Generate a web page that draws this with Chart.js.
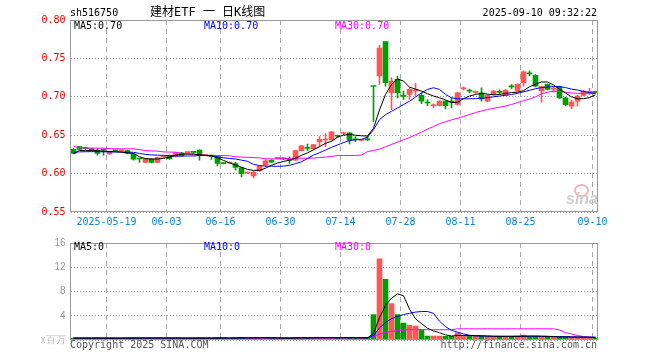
<!DOCTYPE html>
<html><head><meta charset="utf-8">
<script src="https://cdn.jsdelivr.net/npm/chart.js@4.4.1/dist/chart.umd.min.js"></script>
<style>
html,body{margin:0;padding:0;background:#fff;width:660px;height:360px;overflow:hidden;position:relative}
canvas{position:absolute;left:0}
.t{position:absolute;white-space:nowrap;font-family:"DejaVu Sans Mono",monospace;font-size:10px;line-height:10px}
</style></head><body>
<canvas id="pc" width="660" height="232" style="top:0"></canvas>
<canvas id="vc" width="660" height="128" style="top:232px"></canvas>
<div class="t" style="left:70px;top:8px;color:#000">sh516750</div>
<div class="t" style="left:150px;top:6px;font-size:12px;line-height:12px;font-family:'DejaVu Sans Mono','Noto Sans CJK SC',monospace;color:#000">建材ETF 一 日K线图</div>
<div class="t" style="right:63px;top:7.5px;color:#000">2025-09-10 09:32:22</div>
<div class="t" style="left:74px;top:20.5px;color:#000">MA5:0.70</div>
<div class="t" style="left:204px;top:20.5px;color:#0000ff">MA10:0.70</div>
<div class="t" style="left:335px;top:20.5px;color:#ff00ff">MA30:0.70</div>
<div class="t" style="left:74px;top:241.5px;color:#000">MA5:0</div>
<div class="t" style="left:204px;top:241.5px;color:#0000ff">MA10:0</div>
<div class="t" style="left:335px;top:241.5px;color:#ff00ff">MA30:0</div>
<div class="t" style="left:70px;top:340px;color:#555">Copyright 2025 SINA.COM</div>
<div class="t" style="right:63px;top:340px;color:#555">http://finance.sina.com.cn</div>
<div style="position:absolute;left:574px;top:184px;width:11px;height:9px;border:2px solid #f3b5b5;border-radius:50%"></div>
<div class="t" style="left:566px;top:191px;font-family:'Liberation Sans',sans-serif;font-size:16px;line-height:16px;font-weight:bold;font-style:italic;color:#cfcfcf">sina</div>
<script>
const dates = ['2025-05-09','2025-05-12','2025-05-13','2025-05-14','2025-05-15','2025-05-16',
'2025-05-19','2025-05-20','2025-05-21','2025-05-22','2025-05-23',
'2025-05-26','2025-05-27','2025-05-28','2025-05-29','2025-05-30',
'2025-06-03','2025-06-04','2025-06-05','2025-06-06',
'2025-06-09','2025-06-10','2025-06-11','2025-06-12','2025-06-13',
'2025-06-16','2025-06-17','2025-06-18','2025-06-19','2025-06-20',
'2025-06-23','2025-06-24','2025-06-25','2025-06-26','2025-06-27',
'2025-06-30','2025-07-01','2025-07-02','2025-07-03','2025-07-04',
'2025-07-07','2025-07-08','2025-07-09','2025-07-10','2025-07-11',
'2025-07-14','2025-07-15','2025-07-16','2025-07-17','2025-07-18',
'2025-07-21','2025-07-22','2025-07-23','2025-07-24','2025-07-25',
'2025-07-28','2025-07-29','2025-07-30','2025-07-31','2025-08-01',
'2025-08-04','2025-08-05','2025-08-06','2025-08-07','2025-08-08',
'2025-08-11','2025-08-12','2025-08-13','2025-08-14','2025-08-15',
'2025-08-18','2025-08-19','2025-08-20','2025-08-21','2025-08-22',
'2025-08-25','2025-08-26','2025-08-27','2025-08-28','2025-08-29',
'2025-09-01','2025-09-02','2025-09-03','2025-09-04','2025-09-05',
'2025-09-08','2025-09-09','2025-09-10'];

const openP = [.6316,.6351,.6330,.6320,.6307,.6310,.6255,.6302,.6296,.6300,
 .6254,.6195,.6145,.6188,.6145,.6215,.6237,.6220,.6270,.6274,
 .6280,.6307,.6238,.6232,.6219,.6135,.6138,.6132,.6075,.6008,
 .5969,.6035,.6114,.6175,.6198,.6195,.6177,.6175,.6300,.6332,
 .6320,.6412,.6437,.6439,.6490,.6522,.6530,.6445,.6432,.6450,
 .7140,.7272,.7719,.7053,.7228,.7012,.7031,.7073,.7018,.6923,
 .6884,.6886,.6943,.6935,.6900,.7103,.7077,.7058,.7053,.6943,
 .7031,.7062,.7018,.7134,.7075,.7184,.7302,.7280,.7075,.7162,
 .7098,.7132,.6987,.6877,.6943,.7018,.7058,.7062];
const closeP = [.6263,.6316,.6325,.6312,.6263,.6305,.6285,.6298,.6300,.6263,
 .6188,.6190,.6197,.6145,.6210,.6220,.6193,.6272,.6230,.6278,
 .6276,.6237,.6243,.6228,.6132,.6130,.6142,.6079,.6000,.6012,
 .6020,.6096,.6167,.6150,.6202,.6192,.6173,.6300,.6360,.6328,
 .6377,.6447,.6441,.6544,.6486,.6526,.6434,.6441,.6436,.6440,
 .7134,.7636,.7184,.7206,.7053,.7006,.7096,.7077,.6943,.6919,
 .6888,.6943,.6886,.6930,.7053,.7107,.7073,.7062,.6974,.7018,
 .7075,.7058,.7088,.7130,.7162,.7325,.7298,.7140,.7132,.7096,
 .7102,.6987,.6899,.6930,.7009,.7075,.7062,.7058];
const highP = [.6330,.6355,.6345,.6330,.6325,.6320,.6290,.6310,.6310,.6305,
 .6260,.6200,.6200,.6195,.6215,.6230,.6245,.6275,.6278,.6285,
 .6290,.6310,.6250,.6240,.6225,.6140,.6150,.6150,.6080,.6020,
 .6030,.6100,.6184,.6180,.6210,.6205,.6219,.6305,.6365,.6386,
 .6380,.6482,.6518,.6550,.6500,.6540,.6535,.6482,.6445,.6487,
 .7140,.7675,.7719,.7250,.7265,.7075,.7118,.7175,.7053,.6965,
 .6910,.6950,.6950,.6987,.7060,.7130,.7100,.7075,.7118,.7025,
 .7085,.7090,.7095,.7160,.7170,.7338,.7338,.7290,.7140,.7170,
 .7140,.7140,.6995,.6955,.7020,.7085,.7110,.7075];
const lowP = [.6255,.6310,.6315,.6300,.6241,.6241,.6250,.6290,.6290,.6255,
 .6175,.6145,.6140,.6140,.6140,.6205,.6185,.6215,.6225,.6265,
 .6265,.6175,.6232,.6184,.6100,.6125,.6130,.6044,.5956,.6000,
 .5943,.6030,.6088,.6145,.6190,.6180,.6132,.6170,.6295,.6298,
 .6315,.6351,.6351,.6435,.6470,.6504,.6386,.6417,.6425,.6430,
 .6680,.7162,.7140,.6833,.6987,.6965,.6965,.7009,.6912,.6886,
 .6860,.6880,.6842,.6855,.6890,.7090,.7050,.7045,.6943,.6935,
 .7025,.7035,.7010,.7105,.7070,.7140,.7272,.7130,.6930,.7090,
 .7060,.6980,.6880,.6842,.6877,.7010,.7030,.7050];

const ma5 = [.6260,.6300,.6300,.6300,.6298,.6292,.6288,.6285,.6280,.6270,
 .6262,.6220,.6195,.6190,.6190,.6198,.6215,.6240,.6252,.6255,
 .6255,.6245,.6235,.6230,.6205,.6172,.6140,.6112,.6082,.6055,
 .6042,.6042,.6070,.6108,.6138,.6158,.6175,.6200,.6238,.6270,
 .6310,.6350,.6395,.6420,.6475,.6500,.6510,.6500,.6492,.6490,
 .6590,.6830,.7030,.7160,.7230,.7206,.7125,.7100,.7075,.7040,
 .7010,.6987,.6960,.6925,.6928,.6975,.7010,.7030,.7045,.7035,
 .7025,.7030,.7045,.7055,.7060,.7080,.7130,.7165,.7193,.7193,
 .7155,.7100,.7050,.7000,.6975,.6975,.6990,.7025];
const ma10 = [.6276,.6283,.6285,.6286,.6285,.6284,.6283,.6281,.6280,.6280,
 .6277,.6262,.6250,.6243,.6240,.6238,.6232,.6230,.6228,.6229,
 .6230,.6236,.6236,.6232,.6220,.6205,.6197,.6190,.6175,.6160,
 .6120,.6105,.6098,.6096,.6095,.6097,.6108,.6130,.6155,.6195,
 .6241,.6272,.6307,.6342,.6373,.6404,.6430,.6439,.6447,.6474,
 .6570,.6702,.6768,.6811,.6855,.6899,.6943,.6996,.7053,.7096,
 .7118,.7096,.7031,.6987,.6974,.6974,.6974,.6976,.6980,.6990,
 .7000,.7010,.7020,.7030,.7045,.7065,.7085,.7105,.7120,.7128,
 .7133,.7133,.7120,.7100,.7088,.7070,.7055,.7045];
const ma30 = [.6358,.6335,.6333,.6332,.6332,.6332,.6325,.6324,.6323,.6323,
 .6323,.6312,.6300,.6295,.6293,.6282,.6280,.6279,.6262,.6255,
 .6250,.6245,.6237,.6235,.6235,.6234,.6232,.6220,.6215,.6212,
 .6209,.6205,.6193,.6192,.6192,.6193,.6198,.6200,.6200,.6200,
 .6202,.6210,.6215,.6225,.6235,.6236,.6236,.6237,.6240,.6288,
 .6300,.6320,.6350,.6380,.6410,.6440,.6470,.6505,.6540,.6580,
 .6614,.6650,.6675,.6700,.6720,.6745,.6770,.6795,.6815,.6835,
 .6850,.6865,.6880,.6900,.6925,.6950,.6970,.7000,.7040,.7060,
 .7075,.7070,.7060,.7050,.7045,.7045,.7045,.7045];

const volume = [.30,.28,.30,.25,.35,.30,.27,.22,.30,.33,
 .40,.32,.28,.30,.35,.27,.30,.33,.28,.25,
 .30,.38,.26,.30,.42,.30,.28,.35,.45,.30,
 .40,.35,.38,.30,.26,.28,.30,.45,.40,.32,
 .35,.40,.38,.45,.33,.30,.42,.35,.30,.38,
 4.2,13.4,10.0,6.0,4.2,2.8,2.4,2.3,1.7,.65,
 .65,.65,.60,.60,1.2,.75,.65,.60,.65,.60,
 .55,.60,.60,.60,.65,.80,.60,.60,.55,.50,
 .45,.50,.50,.45,.45,.40,.40,.30];
const vma5 = [.30,.30,.30,.29,.30,.30,.29,.28,.29,.30,
 .30,.31,.33,.33,.32,.30,.31,.31,.30,.29,
 .29,.30,.30,.30,.32,.33,.31,.32,.36,.34,
 .35,.36,.37,.36,.34,.31,.30,.32,.34,.35,
 .36,.38,.38,.38,.38,.37,.38,.37,.35,.35,
 1.08,3.7,5.7,6.9,7.6,7.3,5.1,3.5,2.7,1.95,
 1.5,1.2,.85,.65,.75,.75,.75,.72,.70,.65,
 .62,.60,.60,.60,.60,.63,.65,.65,.62,.60,
 .55,.50,.50,.47,.47,.46,.44,.40];
const vma10 = [.30,.30,.30,.30,.30,.30,.30,.30,.30,.30,
 .30,.30,.30,.31,.31,.31,.31,.31,.30,.30,
 .30,.30,.30,.31,.32,.32,.32,.32,.33,.33,
 .34,.35,.34,.34,.34,.34,.34,.34,.35,.35,
 .35,.35,.35,.36,.36,.36,.37,.37,.37,.37,
 .70,2.0,2.9,3.5,3.9,4.2,4.4,4.6,4.7,4.7,
 4.4,3.1,2.2,1.6,1.3,1.0,.78,.68,.65,.65,
 .62,.62,.62,.62,.62,.62,.62,.62,.62,.60,
 .58,.56,.55,.54,.52,.50,.50,.48];
const vma30 = [.37,.37,.37,.37,.37,.37,.37,.37,.37,.37,
 .37,.37,.37,.37,.37,.37,.37,.37,.37,.37,
 .37,.37,.37,.37,.37,.37,.37,.37,.37,.37,
 .37,.37,.37,.37,.37,.37,.37,.37,.37,.37,
 .37,.37,.37,.37,.37,.37,.37,.37,.37,.37,
 .50,1.0,1.25,1.4,1.55,1.65,1.7,1.7,1.7,1.7,
 1.7,1.7,1.7,1.7,1.85,1.85,1.85,1.85,1.85,1.85,
 1.85,1.85,1.85,1.85,1.85,1.85,1.85,1.85,1.85,1.85,
 1.85,1.65,1.2,1.0,.75,.55,.45,.40];

const tickDates = ['2025-05-19','2025-06-03','2025-06-16','2025-06-30','2025-07-14','2025-07-28','2025-08-11','2025-08-25','2025-09-10'];
const priceTicks = [0.55,0.60,0.65,0.70,0.75,0.80];
const volTicks = [0,4,8,12,16];
const volTickLabels = ['x百万','4','8','12','16'];

const UP = '#ff5555', DOWN = '#009f00';
const candleColor = dates.map((d,i)=> closeP[i] >= openP[i] ? UP : DOWN);
const tickIdx = new Set(tickDates.map(d => dates.indexOf(d)));

const frame = {id:'frame', afterDraw(c){
  const a=c.chartArea, x=c.ctx;
  const l=Math.floor(a.left)+0.5, t=Math.floor(a.top)+0.5, r=Math.ceil(a.right)-1.5, b=Math.round(a.bottom)-0.5;
  x.save(); x.setLineDash([]); x.strokeStyle='#999'; x.lineWidth=1; x.strokeRect(l,t,r-l,b-t); x.restore();
}};

function xScale(show){
  return {
    type:'category', offset:true,
    grid:{offset:true, drawTicks:false, lineWidth:1,
      color:c => tickIdx.has(c.index) ? '#aaa' : 'rgba(0,0,0,0)'},
    border:{display:false, dash:[5,4]},
    ticks:{display:show, autoSkip:false, maxRotation:0, minRotation:0, padding:4, labelOffset:-3,
      color:'#0b84d6', font:{family:'DejaVu Sans Mono', size:10},
      callback:(v,i)=>{ const d=dates[i]; if(!tickIdx.has(i)) return ''; return d===tickDates[0]? d : d.slice(5); }},
    afterFit:s=>{ s.height = show ? 20 : 0; }
  };
}
function line(data,color){
  return {type:'line', data, borderColor:color, borderWidth:1, pointRadius:0, tension:0, fill:false, order:0};
}

new Chart(document.getElementById('pc'), {
  type:'bar',
  data:{labels:dates, datasets:[
    line(ma5,'#000000'), line(ma10,'#0000ff'), line(ma30,'#ff00ff'),
    {type:'bar', data:dates.map((d,i)=>[Math.min(openP[i],closeP[i]), Math.max(openP[i],closeP[i])]),
      backgroundColor:candleColor, barThickness:5, minBarLength:1, grouped:false, order:1},
    {type:'bar', data:dates.map((d,i)=>[lowP[i],highP[i]]),
      backgroundColor:candleColor, barThickness:1, grouped:false, order:2}
  ]},
  options:{
    responsive:false, maintainAspectRatio:false, animation:false,
    layout:{padding:{left:0.5, right:61.5, top:20, bottom:0}},
    plugins:{legend:{display:false}, tooltip:{enabled:false}},
    scales:{
      x:xScale(true),
      y:{min:0.55, max:0.80, position:'left',
        afterBuildTicks:s=>{ s.ticks = priceTicks.map(v=>({value:v})); },
        ticks:{color:'#ee0000', padding:5, font:{family:'DejaVu Sans Mono', size:10}, callback:v=>Number(v).toFixed(2)},
        grid:{drawTicks:false, color:'#999'}, border:{display:false, dash:[1,2]},
        afterFit:s=>{ s.width = 70; }}
    }
  },
  plugins:[frame]
});

new Chart(document.getElementById('vc'), {
  type:'bar',
  data:{labels:dates, datasets:[
    line(vma5,'#000000'), line(vma10,'#0000ff'), line(vma30,'#ff00ff'),
    {type:'bar', data:volume, backgroundColor:candleColor, barThickness:5, grouped:false, order:1}
  ]},
  options:{
    responsive:false, maintainAspectRatio:false, animation:false,
    layout:{padding:{left:0.5, right:61.5, top:8, bottom:20}},
    plugins:{legend:{display:false}, tooltip:{enabled:false}},
    scales:{
      x:xScale(false),
      y:{min:0, max:16, position:'left',
        afterBuildTicks:s=>{ s.ticks = volTicks.map(v=>({value:v})); },
        ticks:{color:c=> c.tick && c.tick.value===0 ? '#bbb' : '#999', padding:5,
          font:{family:'Liberation Sans', size:10},
          callback:(v)=> volTickLabels[volTicks.indexOf(Number(v))]},
        grid:{drawTicks:false, color:'#999'}, border:{display:false, dash:[1,2]},
        afterFit:s=>{ s.width = 70; }}
    }
  },
  plugins:[frame]
});
</script>
</body></html>
